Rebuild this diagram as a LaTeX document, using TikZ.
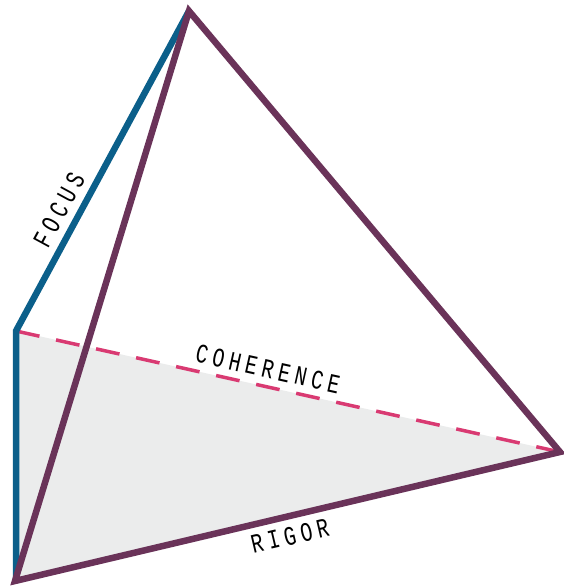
\documentclass[tikz,border=0pt]{standalone}
\usepackage{fontspec}
\newfontfamily\lblfont[FakeStretch=0.74,LetterSpace=18]{Liberation Mono}
\definecolor{focusblue}{HTML}{0B5F8A}
\definecolor{rigorpurple}{HTML}{6A3359}
\definecolor{cohpink}{HTML}{D93A72}
\definecolor{basegray}{HTML}{EBECEC}
\tikzset{
  edgeline/.style={line width=6.5pt, line join=miter},
  lbl/.style={font=\lblfont\fontsize{27}{27}\selectfont, inner sep=0pt, text=black}
}
\begin{document}
\begin{tikzpicture}[x=1pt,y=-1pt]
\useasboundingbox (0,0) rectangle (564,587);
\coordinate (apex) at (189,11);
\coordinate (lm) at (16,331);
\coordinate (bl) at (15,581);
\coordinate (rt) at (560,452);
\coordinate (bb) at (16,579);
\fill[basegray] (lm) -- (rt) -- (bl) -- cycle;
\draw[cohpink, line width=3.5pt, dash pattern=on 24pt off 17pt] (lm) -- (rt);
\draw[edgeline, focusblue] (apex) -- (lm) -- (bb);
\draw[edgeline, rigorpurple] (apex) -- (rt) -- (bl) -- cycle;
\node[lbl, rotate=61.5] (focus) at (59,210) {FOCUS};
\node[lbl, rotate=-12.6] (coh) at (268,369) {COHERENCE};
\node[lbl, rotate=13.3] (rigor) at (290,536) {RIGOR};
\end{tikzpicture}
\end{document}
